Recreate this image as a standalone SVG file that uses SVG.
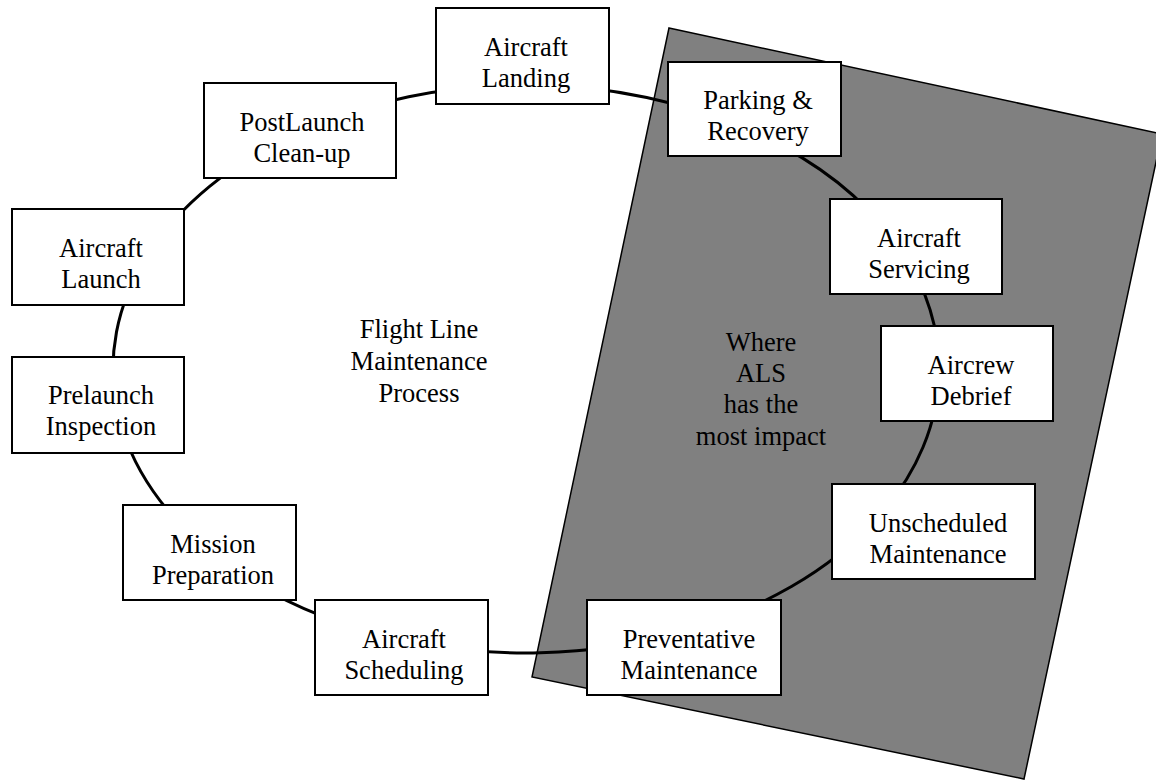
<svg xmlns="http://www.w3.org/2000/svg" width="1156" height="780" viewBox="0 0 1156 780">
<style>
.bg{fill:#ffffff}
.zone{fill:#808080;stroke:#000;stroke-width:1.5}
.box{fill:#fff;stroke:#000;stroke-width:2}
.arc{fill:none;stroke:#000;stroke-width:3}
text{font-family:"Liberation Serif","Times New Roman",serif;font-size:26.5px;fill:#000;text-anchor:middle}
</style>
<rect class="bg" x="0" y="0" width="1156" height="780"/>
<g id="als-zone">
<polygon class="zone" points="669,28 1162,134 1024,779 532,677"/>
</g>
<g id="connectors">
<path class="arc" d="M526,85 A413,284 0 0 1 756.9,133.6"/>
<path class="arc" d="M756.9,133.6 A413,284 0 0 1 894.0,240.1"/>
<path class="arc" d="M894.0,240.1 A413,284 0 0 1 939,369"/>
<path class="arc" d="M939,369 A413,284 0 0 1 876.2,519.5"/>
<path class="arc" d="M876.2,519.5 A413,284 0 0 1 680.7,632.3"/>
<path class="arc" d="M680.7,632.3 A413,284 0 0 1 398.4,639.1"/>
<path class="arc" d="M398.4,639.1 A413,284 0 0 1 223.9,562.7"/>
<path class="arc" d="M223.9,562.7 A413,284 0 0 1 117.0,408.5"/>
<path class="arc" d="M117.0,408.5 A413,284 0 0 1 145.8,258.0"/>
<path class="arc" d="M145.8,258.0 A413,284 0 0 1 301.1,130.8"/>
<path class="arc" d="M301.1,130.8 A413,284 0 0 1 526,85"/>
</g>
<g id="node-landing">
<rect class="box" x="436" y="8" width="173" height="96"/>
<text x="526" y="56">Aircraft</text>
<text x="526" y="87">Landing</text>
</g>
<g id="node-parking">
<rect class="box" x="668" y="62" width="173" height="94"/>
<text x="758" y="109">Parking &amp;</text>
<text x="758" y="140">Recovery</text>
</g>
<g id="node-servicing">
<rect class="box" x="830" y="199" width="172" height="95"/>
<text x="919" y="247">Aircraft</text>
<text x="919" y="278">Servicing</text>
</g>
<g id="node-debrief">
<rect class="box" x="881" y="326" width="172" height="95"/>
<text x="971" y="374">Aircrew</text>
<text x="971" y="405">Debrief</text>
</g>
<g id="node-unscheduled">
<rect class="box" x="832" y="484" width="203" height="95"/>
<text x="938" y="532">Unscheduled</text>
<text x="938" y="563">Maintenance</text>
</g>
<g id="node-preventative">
<rect class="box" x="587" y="600" width="194" height="95"/>
<text x="689" y="648">Preventative</text>
<text x="689" y="679">Maintenance</text>
</g>
<g id="node-scheduling">
<rect class="box" x="315" y="600" width="173" height="95"/>
<text x="404" y="648">Aircraft</text>
<text x="404" y="679">Scheduling</text>
</g>
<g id="node-mission">
<rect class="box" x="123" y="505" width="173" height="95"/>
<text x="213" y="553">Mission</text>
<text x="213" y="584">Preparation</text>
</g>
<g id="node-prelaunch">
<rect class="box" x="12" y="357" width="172" height="96"/>
<text x="101" y="404">Prelaunch</text>
<text x="101" y="435">Inspection</text>
</g>
<g id="node-launch">
<rect class="box" x="12" y="209" width="172" height="96"/>
<text x="101" y="257">Aircraft</text>
<text x="101" y="288">Launch</text>
</g>
<g id="node-postlaunch">
<rect class="box" x="204" y="83" width="192" height="95"/>
<text x="302" y="131">PostLaunch</text>
<text x="302" y="162">Clean-up</text>
</g>
<g id="label-process">
<text x="419" y="338">Flight Line</text>
<text x="419" y="370">Maintenance</text>
<text x="419" y="402">Process</text>
</g>
<g id="label-als">
<text x="761" y="351">Where</text>
<text x="761" y="382">ALS</text>
<text x="761" y="413">has the</text>
<text x="761" y="445">most impact</text>
</g>
</svg>
